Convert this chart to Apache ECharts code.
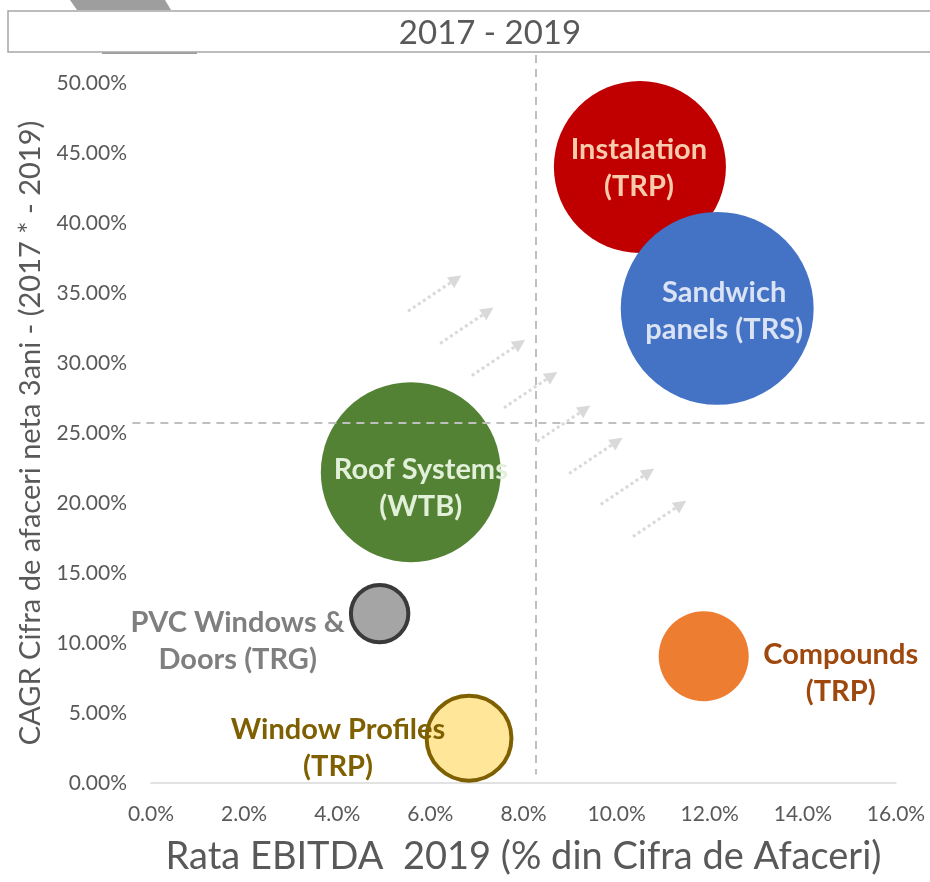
<!DOCTYPE html>
<html>
<head>
<meta charset="utf-8">
<script src="https://cdn.jsdelivr.net/npm/echarts@6/dist/echarts.min.js"></script>
<style>
  html, body { margin: 0; padding: 0; background: #fff; }
  #chart { width: 930px; height: 882px; }
</style>
</head>
<body>
<div id="chart"></div>
<script>
// segments
const names = ['Instalation\n(TRP)', 'Sandwich\npanels (TRS)', 'Roof Systems\n(WTB)', 'PVC Windows &\nDoors (TRG)', 'Compounds\n(TRP)', 'Window Profiles\n(TRP)']
const ebitda = [10.5, 12.16, 5.58, 4.91, 11.87, 6.83]      // x, %
const cagr = [44.0, 33.9, 22.2, 12.1, 9.05, 3.2]           // y, %
const bubbleSize = [296, 372, 324, 33, 81, 72]             // relative bubble area

const xTicks = [0, 2, 4, 6, 8, 10, 12, 14, 16]
const yTicks = [0, 5, 10, 15, 20, 25, 30, 35, 40, 45, 50]

// quadrant split
const splitX = 8.27
const splitY = 25.74

// dotted trend arrows: start and end points (x %, y %)
const arrowStart = [[5.52, 33.7], [6.21, 31.4], [6.89, 29.1], [7.58, 26.8], [8.29, 24.4], [8.98, 22.1], [9.66, 19.9], [10.35, 17.6]]
const arrowEnd = [[6.55, 36.0], [7.24, 33.7], [7.92, 31.4], [8.61, 29.1], [9.32, 26.7], [10.01, 24.4], [10.69, 22.2], [11.38, 19.9]]

const styles = [
  { color: '#C00000', text: '#F8CBAD', offset: [-1, 1] },
  { color: '#4472C4', text: '#DAE3F3', offset: [7, 3] },
  { color: '#548235', text: '#E2F0D9', offset: [10, 16] },
  { color: '#A5A5A5', border: '#3A3A3A', text: '#7F7F7F', offset: [-142, 28] },
  { color: '#ED7D31', text: '#9E480E', offset: [137, 17] },
  { color: '#FFE699', border: '#7F6000', text: '#7F6000', offset: [-131, 10] }
]

const font = 'Lato, "Open Sans", sans-serif'
const grey = '#595959'

const bubbles = names.map((n, i) => {
  const s = styles[i]
  return {
    name: n,
    value: [ebitda[i], cagr[i], bubbleSize[i]],
    itemStyle: {
      color: s.color,
      opacity: 1,
      borderColor: s.border || s.color,
      borderWidth: s.border ? 4 : 0
    },
    label: {
      show: true,
      position: 'inside',
      offset: s.offset,
      formatter: '{b}',
      color: s.text,
      fontFamily: font,
      fontWeight: 'bold',
      fontSize: 29,
      lineHeight: 37,
      align: 'center'
    }
  }
})

const arrows = arrowStart.map((p, i) => ({ coords: [p, arrowEnd[i]] }))

const chart = echarts.init(document.getElementById('chart'))

chart.setOption({
  animation: false,
  backgroundColor: '#fff',
  textStyle: { fontFamily: font },
  graphic: [
    { type: 'polygon', shape: { points: [[70, 0], [165, 0], [171, 10], [77, 10]] }, style: { fill: '#9E9E9E' }, z: 1 },
    { type: 'rect', shape: { x: 102, y: 52, width: 95, height: 2 }, style: { fill: '#9E9E9E' }, z: 1 },
    { type: 'rect', shape: { x: 8, y: 11, width: 940, height: 41 }, style: { fill: '#fff', stroke: '#A6A6A6', lineWidth: 1.5 }, z: 2 },
    { type: 'text', x: 490, y: 33, style: { text: '2017 - 2019', font: '33px ' + font, fill: grey, align: 'center', verticalAlign: 'middle' }, z: 3 }
  ],
  grid: { left: 151, right: 34, top: 83, bottom: 99 },
  xAxis: {
    type: 'value',
    min: xTicks[0],
    max: xTicks[xTicks.length - 1],
    interval: xTicks[1] - xTicks[0],
    name: 'Rata EBITDA  2019 (% din Cifra de Afaceri)',
    nameLocation: 'middle',
    nameGap: 55,
    nameTextStyle: { fontSize: 38, color: grey, fontFamily: font },
    axisLine: { lineStyle: { color: '#D9D9D9', width: 1.5 } },
    axisTick: { show: false },
    splitLine: { show: false },
    axisLabel: { formatter: v => v.toFixed(1) + '%', fontSize: 21, color: grey, margin: 21 }
  },
  yAxis: {
    type: 'value',
    min: yTicks[0],
    max: yTicks[yTicks.length - 1],
    interval: yTicks[1] - yTicks[0],
    name: 'CAGR Cifra de afaceri neta 3ani - (2017 * - 2019)',
    nameLocation: 'middle',
    nameGap: 106,
    nameTextStyle: { fontSize: 29, color: grey, fontFamily: font },
    axisLine: { show: false },
    axisTick: { show: false },
    splitLine: { show: false },
    axisLabel: { formatter: v => v.toFixed(2) + '%', fontSize: 21, color: grey, margin: 24 }
  },
  series: [
    {
      type: 'scatter',
      symbol: 'circle',
      symbolSize: v => Math.sqrt(v[2]) * 10,
      data: bubbles,
      z: 2
    },
    {
      type: 'lines',
      coordinateSystem: 'cartesian2d',
      clip: false,
      silent: true,
      symbol: ['none', 'none'],
      lineStyle: { color: '#BFBFBF', width: 2, type: [8, 6], opacity: 1 },
      data: [
        { coords: [[splitX, 52], [splitX, 0.6]] },
        { coords: [[-0.4, splitY], [16.8, splitY]] }
      ],
      z: 3
    },
    {
      type: 'lines',
      coordinateSystem: 'cartesian2d',
      clip: false,
      silent: true,
      symbol: ['none', 'triangle'],
      symbolSize: 13,
      lineStyle: { color: '#D9D9D9', width: 3, type: [3, 3], opacity: 1 },
      data: arrows,
      z: 3
    }
  ]
})
</script>
</body>
</html>
